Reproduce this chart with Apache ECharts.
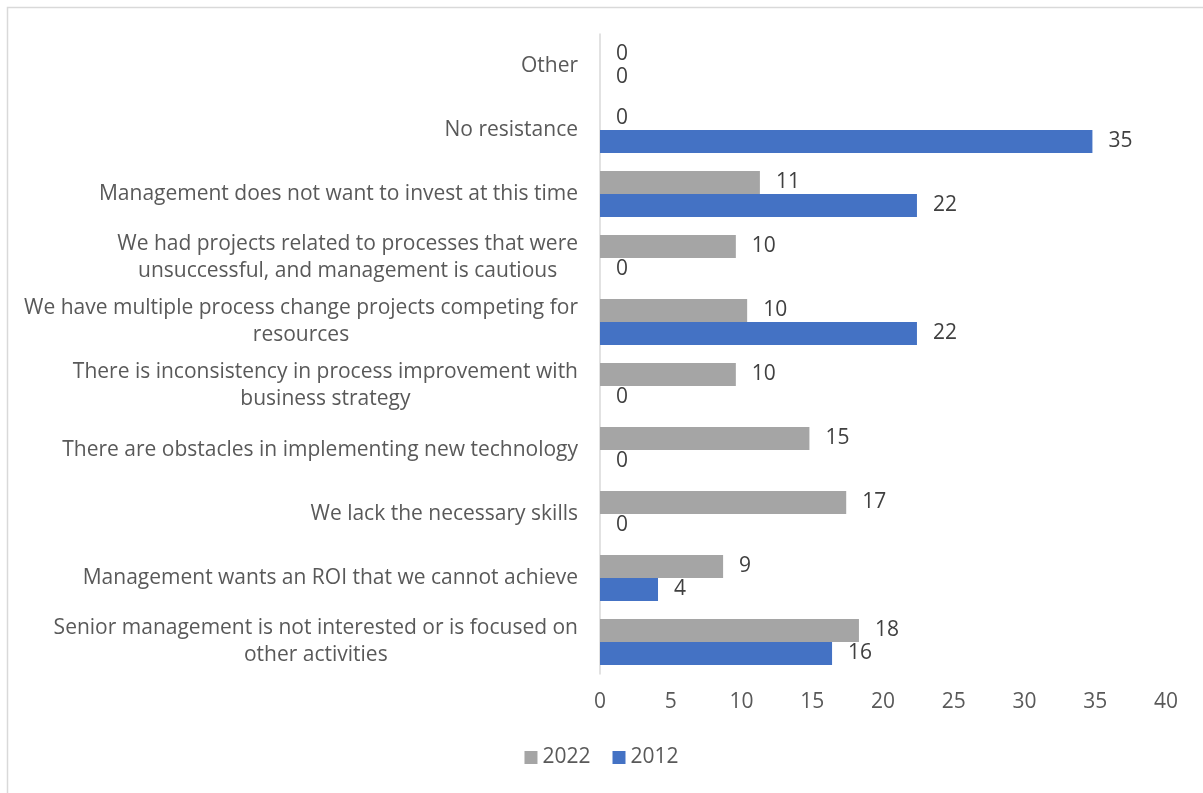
<!DOCTYPE html>
<html>
<head>
<meta charset="utf-8">
<script src="https://cdn.jsdelivr.net/npm/echarts@6/dist/echarts.min.js"></script>
<style>html,body{margin:0;padding:0;background:#fff;}#c{width:1203px;height:793px;}</style>
</head>
<body>
<div id="c"></div>
<script>
// Categories, bottom to top
var categories = [
  "Senior management is not interested or is focused on\nother activities",
  "Management wants an ROI that we cannot achieve",
  "We lack the necessary skills",
  "There are obstacles in implementing new technology",
  "There is inconsistency in process improvement with\nbusiness strategy",
  "We have multiple process change projects competing for\nresources",
  "We had projects related to processes that were\nunsuccessful, and management is cautious",
  "Management does not want to invest at this time",
  "No resistance",
  "Other"
];
var values2022 = [18.3, 8.7, 17.4, 14.8, 9.6, 10.4, 9.6, 11.3, 0, 0];
var values2012 = [16.4, 4.1, 0, 0, 0, 22.4, 0, 22.4, 34.8, 0];
var seriesNames = ["2022", "2012"];
var xTicks = [0, 40, 5];

var FONT = "Open Sans";
var FS = 21;
var chart = echarts.init(document.getElementById('c'));
chart.setOption({
  backgroundColor: '#fff',
  animation: false,
  graphic: [{
    type: 'rect', left: 5, top: 5,
    shape: {width: 1300, height: 900},
    style: {fill: 'none', stroke: '#d9d9d9', lineWidth: 1.5}, silent: true, z: -1
  }],
  legend: {
    data: seriesNames,
    bottom: 20,
    left: 'center',
    itemWidth: 13, itemHeight: 13,
    itemGap: 22,
    icon: 'rect',
    textStyle: {fontFamily: FONT, fontSize: FS, color: '#595959'}
  },
  grid: {left: 600, right: 37, top: 34, bottom: 119, containLabel: false},
  xAxis: {
    type: 'value', min: xTicks[0], max: xTicks[1], interval: xTicks[2],
    splitLine: {show: false},
    axisLine: {show: false}, axisTick: {show: false},
    axisLabel: {fontFamily: FONT, fontSize: FS, color: '#595959', margin: 18}
  },
  yAxis: {
    type: 'category', data: categories,
    axisLine: {show: true, lineStyle: {color: '#d9d9d9', width: 1.5}},
    axisTick: {show: false},
    axisLabel: {
      margin: 22,
      fontFamily: FONT, fontSize: FS, color: '#595959', lineHeight: 27,
      formatter: function (v) {
        return v.split('\n').map(function (l) { return '{c|' + l + '}'; }).join('\n');
      },
      rich: {c: {align: 'center', fontFamily: FONT, fontSize: FS, color: '#595959', lineHeight: 27}}
    }
  },
  series: [
    {
      name: '2022', type: 'bar', data: values2022,
      barWidth: 23, barGap: '0%',
      itemStyle: {color: '#a5a5a5'},
      label: {show: true, position: 'right', distance: 16, fontFamily: FONT, fontSize: FS, color: '#404040',
        formatter: function (p) { return Math.round(p.value); }}
    },
    {
      name: '2012', type: 'bar', data: values2012,
      barWidth: 23, barGap: '0%',
      itemStyle: {color: '#4472c4'},
      label: {show: true, position: 'right', distance: 16, fontFamily: FONT, fontSize: FS, color: '#404040',
        formatter: function (p) { return Math.round(p.value); }}
    }
  ]
});
</script>
</body>
</html>
